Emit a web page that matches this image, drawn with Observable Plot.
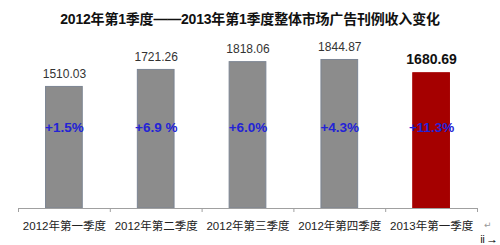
<!DOCTYPE html>
<html><head><meta charset="utf-8">
<script src="https://cdn.jsdelivr.net/npm/d3@7"></script>
<script src="https://cdn.jsdelivr.net/npm/@observablehq/plot@0.6"></script>
<style>
html,body{margin:0;padding:0;overflow:hidden;}
body{background:#fff;width:500px;height:245px;position:relative;font-family:"Liberation Sans","Noto Sans CJK SC",sans-serif;}
#title{position:absolute;top:8px;left:0;width:500px;text-align:center;font:bold 14px "Liberation Sans","Noto Sans CJK SC",sans-serif;color:#111;letter-spacing:-0.2px;}
#chart{position:absolute;top:30px;left:0;height:215px;}
#chart svg{display:block;}
#mark{position:absolute;left:484px;top:221px;font:9px "DejaVu Sans",sans-serif;line-height:9px;color:#999;}
</style></head>
<body>
<div id="title">2012年第1季度——2013年第1季度整体市场广告刊例收入变化</div>
<div id="chart"></div>
<div id="mark">↵</div>
<script>
const categories = ["2012年第一季度","2012年第二季度","2012年第三季度","2012年第四季度","2013年第一季度"];
const values = [1510.03, 1721.26, 1818.06, 1844.87, 1680.69];
const changes = ["+1.5%","+6.9 %","+6.0%","+4.3%","+11.3%"];

const data = categories.map((c, i) => ({i, category: c, value: values[i], change: changes[i], last: i === categories.length - 1}));
const boundaries = d3.range(-0.5, categories.length, 1);
const font = '"Liberation Sans","Noto Sans CJK SC",sans-serif';

const plot = Plot.plot({
  width: 500,
  height: 215,
  marginLeft: 18,
  marginRight: 23,
  marginTop: 17,
  marginBottom: 37,
  style: {fontFamily: font, background: "#fff"},
  x: {type: "linear", domain: [-0.5, categories.length - 0.5]},
  y: {domain: [0, 2000], axis: null},
  marks: [
    Plot.rectY(data, {x1: d => d.i - 0.2, x2: d => d.i + 0.2, y: "value",
      fill: d => d.last ? "#a50000" : "#8c8c8c", stroke: d => d.last ? "#a50000" : "#7c8593", strokeWidth: 1}),
    Plot.ruleY([0], {stroke: "#a0a0a0"}),
    Plot.axisX(boundaries, {tickSize: 4, tickFormat: () => "", stroke: "#a0a0a0"}),
    Plot.axisX(d3.range(categories.length), {tickSize: 0, tickPadding: 13, tickFormat: i => categories[i], fontSize: 11.5, fill: "#222"}),
    Plot.text(data.filter(d => !d.last), {x: "i", y: "value", text: d => d3.format(".2f")(d.value), dy: -13, fontSize: 12, fill: "#333"}),
    Plot.text(data.filter(d => d.last), {x: "i", y: "value", text: d => d3.format(".2f")(d.value), dy: -14, fontSize: 14, fontWeight: "bold", fill: "#111"}),
    Plot.text(data, {x: "i", text: "change", frameAnchor: "middle", fontSize: 13.5, fontWeight: "bold", fill: "#2323d6"})
  ]
});
document.getElementById("chart").append(plot);
</script>
</body></html>
